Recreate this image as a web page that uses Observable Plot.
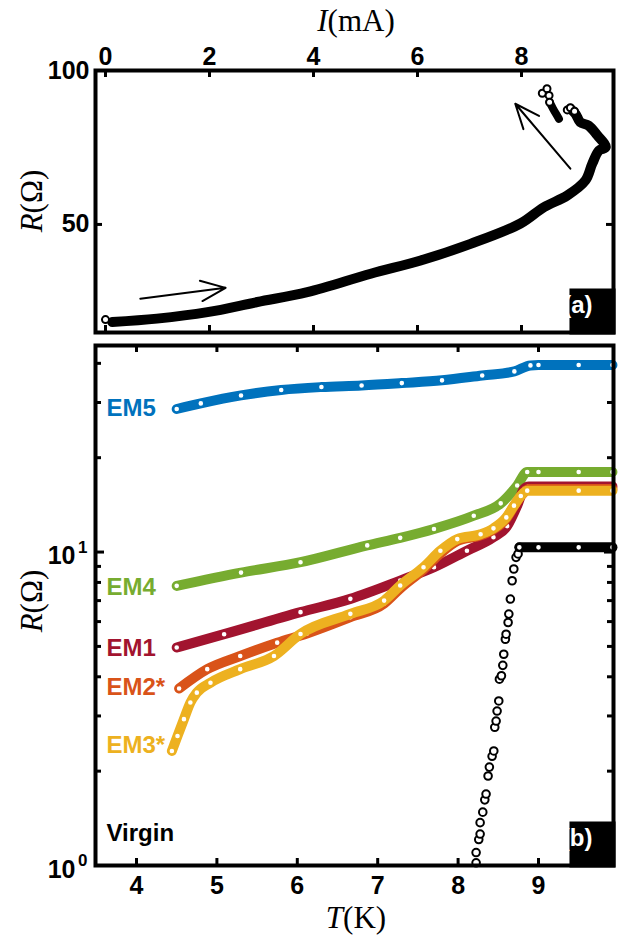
<!DOCTYPE html>
<html><head><meta charset="utf-8">
<script src="https://cdn.jsdelivr.net/npm/d3@7"></script>
<script src="https://cdn.jsdelivr.net/npm/@observablehq/plot@0.6"></script>
<style>
html,body{margin:0;padding:0;background:#fff;}
#wrap{position:relative;width:624px;height:935px;overflow:hidden;background:#fff;}
#wrap svg{display:block;}
</style></head><body><div id="wrap"></div>
<script>
// ---------- Panel (a): R vs I ----------
const iTicks = [0, 2, 4, 6, 8];
const rTicksA = [50, 100];
const I_first = [0];
const R_first = [19.1];
const I_up = [0.13, 0.99, 1.96, 2.92, 3.88, 5.10, 6.06, 7.02, 7.98, 8.43, 8.88, 9.23, 9.36, 9.49, 9.62, 9.46, 9.29, 9.13, 9.04, 8.94];
const R_up = [18.3, 19.4, 21.5, 24.8, 28.0, 34.0, 38.3, 43.7, 50.3, 55.6, 59.4, 64.3, 69.7, 74.0, 75.1, 78.9, 82.1, 83.2, 85.9, 87.6];
const I_openB = [8.88, 8.94, 9.02];
const R_openB = [87.2, 87.9, 86.8];
const I_A = [8.54, 8.60, 8.66, 8.72];
const R_A = [89.7, 87.8, 86.0, 84.3];
const I_openA = [8.40, 8.49, 8.53, 8.54];
const R_openA = [92.6, 94.1, 91.9, 89.7];
const arrowsA = [
  {x1: 0.67, y1: 25.9, x2: 2.31, y2: 29.4},
  {x1: 8.94, y1: 68.1, x2: 7.88, y2: 89.2}
];

// ---------- Panel (b): R vs T ----------
const tTicks = [4, 5, 6, 7, 8, 9];
const rMajorB = [1, 10];
const rMinorB = [2, 3, 4, 5, 6, 7, 8, 9, 20, 30, 40];
const majorBase = ["10", "10"];
const majorExp = ["0", "1"];

const seriesNames = ["EM5", "EM4", "EM1", "EM2*", "EM3*", "Virgin"];
const seriesColors = ["#0072BD", "#77AC30", "#A2142F", "#D95319", "#EDB120", "#000000"];
const labelR = [28.7, 7.7, 4.92, 3.70, 2.41, 1.27];

const T_EM5 = [4.5, 4.8, 5.3, 5.8, 6.3, 6.8, 7.3, 7.8, 8.3, 8.7, 8.9, 9.0, 9.5, 9.92];
const R_EM5 = [28.6, 29.8, 31.6, 32.9, 33.6, 34.0, 34.6, 35.3, 36.6, 37.7, 39.4, 39.5, 39.5, 39.5];
const T_EM4 = [4.5, 5.3, 6.04, 6.87, 7.28, 7.70, 8.195, 8.53, 8.735, 8.86, 9.0, 9.5, 9.92];
const R_EM4 = [7.8, 8.6, 9.28, 10.5, 11.1, 11.85, 13.06, 14.3, 16.3, 18.0, 18.0, 18.0, 18.0];
const T_EM1 = [4.5, 5.09, 6.04, 6.66, 7.28, 7.70, 8.11, 8.44, 8.61, 8.735, 8.82, 8.88, 9.5, 9.92];
const R_EM1 = [4.96, 5.47, 6.43, 7.09, 8.11, 8.94, 10.1, 11.15, 12.1, 14.06, 15.9, 16.2, 16.2, 16.2];
const T_EM2 = [4.53, 4.88, 5.29, 5.75, 6.12, 6.66, 7.08, 7.28, 7.57, 7.78, 7.99, 8.28, 8.44, 8.6, 8.695, 8.8, 8.88, 9.5, 9.92];
const R_EM2 = [3.67, 4.23, 4.66, 5.14, 5.5, 6.2, 6.85, 7.65, 8.8, 9.9, 10.85, 11.3, 11.8, 12.8, 14.0, 15.3, 15.9, 15.9, 15.9];
const T_EM3 = [4.44, 4.51, 4.59, 4.67, 4.75, 4.92, 5.29, 5.71, 6.04, 6.66, 7.08, 7.28, 7.57, 7.78, 7.99, 8.28, 8.44, 8.6, 8.695, 8.78, 8.86, 9.5, 9.92];
const R_EM3 = [2.32, 2.59, 2.93, 3.31, 3.56, 3.83, 4.23, 4.66, 5.48, 6.35, 7.0, 7.82, 8.94, 10.1, 11.0, 11.4, 11.9, 12.9, 14.06, 15.1, 15.7, 15.7, 15.7];
const T_V = [8.224, 8.224, 8.257, 8.274, 8.274, 8.307, 8.332, 8.348, 8.373, 8.389, 8.423, 8.444, 8.456, 8.473, 8.485, 8.506, 8.514, 8.539, 8.556, 8.568, 8.588, 8.597, 8.622, 8.631, 8.650, 8.672, 8.693, 8.721, 8.746, 8.762];
const R_V = [1.02, 1.10, 1.21, 1.26, 1.37, 1.48, 1.62, 1.69, 1.93, 2.06, 2.23, 2.32, 2.76, 2.89, 3.11, 3.35, 3.93, 4.03, 4.35, 4.72, 5.27, 5.47, 5.96, 6.34, 7.08, 8.10, 8.83, 9.62, 9.86, 10.35];
const T_Vflat = [8.762, 9.0, 9.5, 9.92];
const R_Vflat = [10.35, 10.35, 10.35, 10.35];

const zipXY = (xs, ys) => xs.map((x, i) => ({x, y: ys[i]}));

const baseStyle = {fontFamily: "'Liberation Sans', Arial, sans-serif", fontWeight: "bold", fontSize: "25px", background: "white", overflow: "visible", color: "black"};
const serif = "'Liberation Serif', 'Times New Roman', serif";

function addTitle(svg, x, y, rotate, parts, size) {
  const t = d3.select(svg).append("text")
    .attr("transform", `translate(${x},${y}) rotate(${rotate})`)
    .attr("text-anchor", "middle")
    .attr("fill", "black")
    .style("font-family", serif).style("font-size", size + "px").style("font-weight", "normal");
  parts.forEach(([s, it]) => t.append("tspan").text(s).style("font-style", it ? "italic" : "normal"));
}

// ---- Top plot ----
const W = 624;
const topH = 335, topMT = 70, topMB = 3, ML = 95, MR = 11;
const topPH = topH - topMT - topMB, PW = W - ML - MR;
const tk = 7;

const topPlot = Plot.plot({
  width: W, height: topH,
  marginLeft: ML, marginRight: MR, marginTop: topMT, marginBottom: topMB,
  x: {domain: [-0.192, 9.769]},
  y: {domain: [14.9, 100]},
  style: baseStyle,
  marks: [
    Plot.axisX({anchor: "top", ticks: iTicks, tickSize: 0, tickPadding: 6, label: null, tickFormat: d => String(d)}),
    Plot.axisY({anchor: "left", ticks: rTicksA, tickSize: 0, tickPadding: 6, label: null, tickFormat: d => String(d)}),
    Plot.tickX(iTicks, {x: d => d, insetBottom: topPH - tk, strokeWidth: 3}),
    Plot.tickX(iTicks, {x: d => d, insetTop: topPH - tk, strokeWidth: 3}),
    Plot.tickY(rTicksA, {y: d => d, insetRight: PW - tk, strokeWidth: 3}),
    Plot.tickY(rTicksA, {y: d => d, insetLeft: PW - tk, strokeWidth: 3}),
    Plot.arrow(arrowsA, {x1: "x1", y1: "y1", x2: "x2", y2: "y2", stroke: "black", strokeWidth: 2, headLength: 20, headAngle: 45}),
    Plot.line(zipXY(I_up, R_up), {x: "x", y: "y", stroke: "black", strokeWidth: 10, curve: "catmull-rom", strokeLinecap: "round", strokeLinejoin: "round"}),
    Plot.line(zipXY(I_A, R_A), {x: "x", y: "y", stroke: "black", strokeWidth: 8, curve: "catmull-rom", strokeLinecap: "round", strokeLinejoin: "round"}),
    Plot.dot(zipXY(I_first, R_first), {x: "x", y: "y", r: 3.5, stroke: "black", strokeWidth: 2, fill: "white"}),
    Plot.dot(zipXY(I_openB, R_openB), {x: "x", y: "y", r: 3.5, stroke: "black", strokeWidth: 2, fill: "white"}),
    Plot.dot(zipXY(I_openA, R_openA), {x: "x", y: "y", r: 3.5, stroke: "black", strokeWidth: 2, fill: "white"}),
    Plot.frame({strokeWidth: 4, stroke: "black"}),
    Plot.dot([0], {frameAnchor: "bottom-right", symbol: "square", r: 26, fill: "black", dx: -21, dy: -21}),
    Plot.text(["(a)"], {frameAnchor: "bottom-right", text: d => d, fill: "white", fontSize: 24, fontWeight: "bold", dx: -21, dy: -20})
  ]
});

// ---- Bottom plot ----
const botH = 600, botMT = 10, botMB = 70;
const botPH = botH - botMT - botMB;
const series = [
  {name: "EM5", T: T_EM5, R: R_EM5, c: seriesColors[0]},
  {name: "EM4", T: T_EM4, R: R_EM4, c: seriesColors[1]},
  {name: "EM1", T: T_EM1, R: R_EM1, c: seriesColors[2]},
  {name: "EM2*", T: T_EM2, R: R_EM2, c: seriesColors[3]},
  {name: "EM3*", T: T_EM3, R: R_EM3, c: seriesColors[4]}
];
const seriesMarks = [];
for (const s of series) {
  const d = zipXY(s.T, s.R);
  seriesMarks.push(Plot.line(d, {x: "x", y: "y", stroke: s.c, strokeWidth: 10, curve: "monotone-x", strokeLinecap: "round", strokeLinejoin: "round"}));
  seriesMarks.push(Plot.dot(d, {x: "x", y: "y", r: 3.3, stroke: s.c, strokeWidth: 2, fill: "white"}));
}
const labelMarks = seriesNames.map((n, i) => Plot.text([labelR[i]], {
  frameAnchor: "left", y: d => d, text: () => n, fill: seriesColors[i], textAnchor: "start", dx: 11, fontSize: 24, fontWeight: "bold"
}));

const botPlot = Plot.plot({
  width: W, height: botH,
  marginLeft: ML, marginRight: MR, marginTop: botMT, marginBottom: botMB,
  x: {domain: [3.49, 9.933]},
  y: {type: "log", domain: [1, 45.6], axis: null},
  style: baseStyle,
  marks: [
    Plot.axisX({anchor: "bottom", ticks: tTicks, tickSize: 0, tickPadding: 11, label: null, tickFormat: d => String(d)}),
    Plot.text(rMajorB, {frameAnchor: "left", y: d => d, text: (d, i) => majorBase[i], textAnchor: "end", dx: -20, dy: 4, fontSize: 25, fontWeight: "bold"}),
    Plot.text(rMajorB, {frameAnchor: "left", y: d => d, text: (d, i) => majorExp[i], textAnchor: "end", dx: -8, dy: -5, fontSize: 17, fontWeight: "bold"}),
    Plot.tickX(tTicks, {x: d => d, insetBottom: botPH - tk, strokeWidth: 3}),
    Plot.tickX(tTicks, {x: d => d, insetTop: botPH - tk, strokeWidth: 3}),
    Plot.tickY(rMajorB, {y: d => d, insetRight: PW - 9, strokeWidth: 3}),
    Plot.tickY(rMajorB, {y: d => d, insetLeft: PW - 9, strokeWidth: 3}),
    Plot.tickY(rMinorB, {y: d => d, insetRight: PW - 6, strokeWidth: 3}),
    Plot.tickY(rMinorB, {y: d => d, insetLeft: PW - 6, strokeWidth: 3}),
    ...seriesMarks,
    Plot.line(zipXY(T_Vflat, R_Vflat), {x: "x", y: "y", stroke: "black", strokeWidth: 10, strokeLinecap: "round"}),
    Plot.dot(zipXY(T_V, R_V), {x: "x", y: "y", r: 3.8, stroke: "black", strokeWidth: 2, fill: "white"}),
    Plot.dot(zipXY(T_Vflat, R_Vflat), {x: "x", y: "y", r: 3.3, stroke: "black", strokeWidth: 2, fill: "white"}),
    ...labelMarks,
    Plot.frame({strokeWidth: 4, stroke: "black"}),
    Plot.dot([0], {frameAnchor: "bottom-right", symbol: "square", r: 26, fill: "black", dx: -21, dy: -21}),
    Plot.text(["(b)"], {frameAnchor: "bottom-right", text: d => d, fill: "white", fontSize: 24, fontWeight: "bold", dx: -21, dy: -20})
  ]
});

const wrap = document.getElementById("wrap");
wrap.appendChild(topPlot);
wrap.appendChild(botPlot);

addTitle(topPlot, 356, 31, 0, [["I", true], ["(mA)", false]], 31);
addTitle(topPlot, 42, 201, -90, [["R", true], ["(Ω)", false]], 31);
addTitle(botPlot, 42, 266, -90, [["R", true], ["(Ω)", false]], 31);
addTitle(botPlot, 356, 593, 0, [["T", true], ["(K)", false]], 31);
</script>
</body></html>
